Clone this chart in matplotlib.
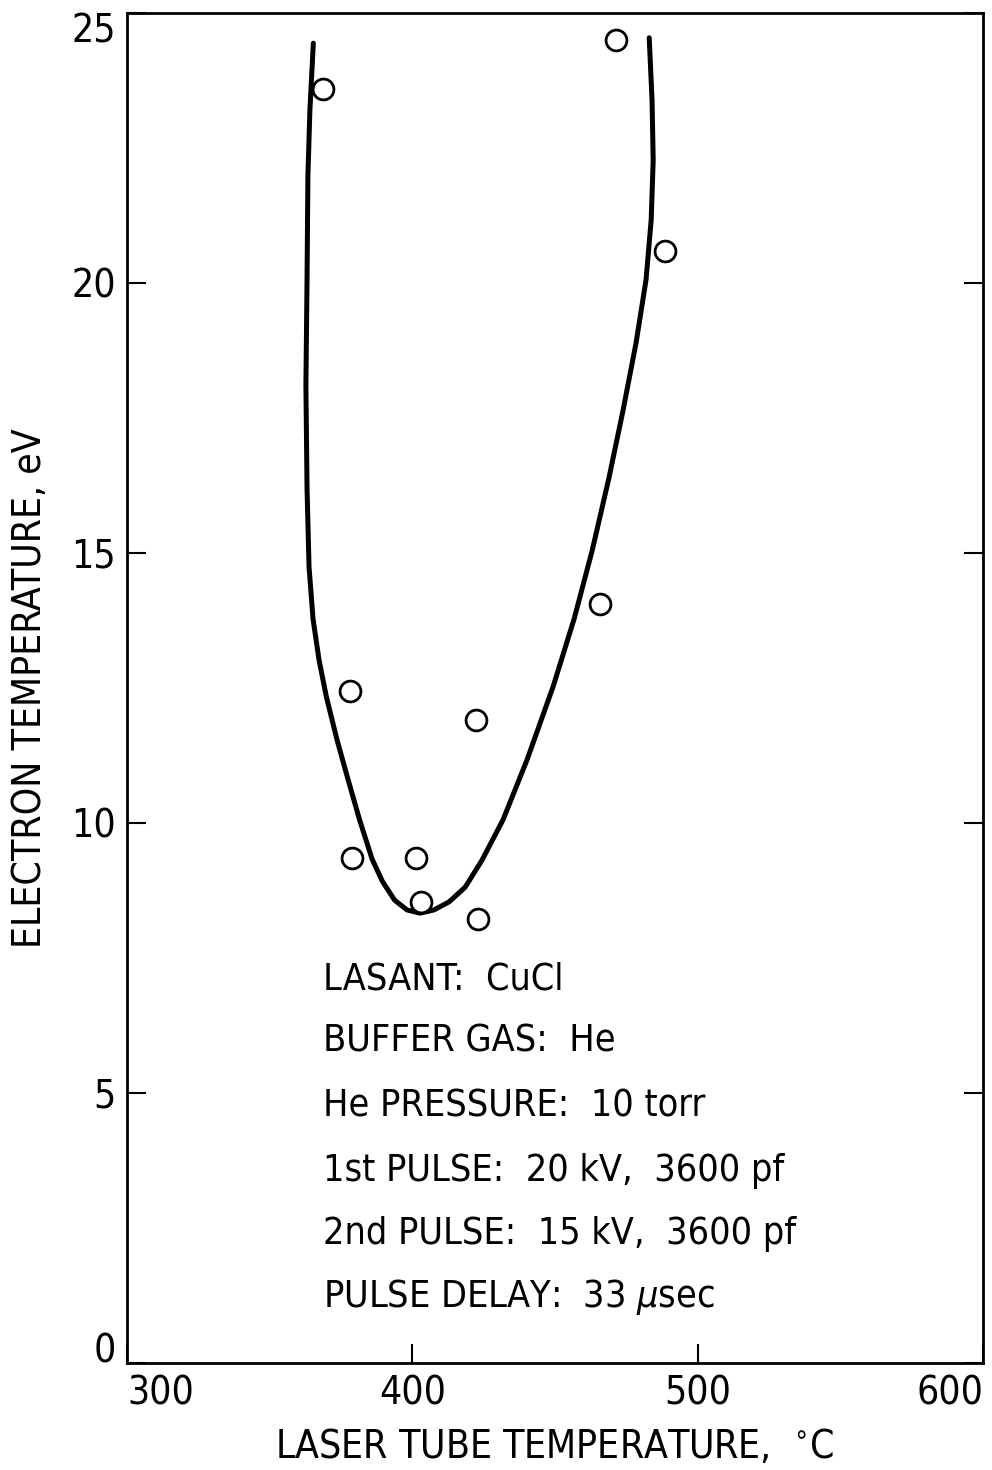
import matplotlib
matplotlib.use("Agg")
import matplotlib.pyplot as plt

# measured points (open circles)
tube_temp = [368.8, 471.4, 488.6, 465.8, 378.0, 422.2, 378.7, 401.2, 402.9, 422.9]
electron_temp = [23.6, 24.5, 20.6, 14.06, 12.45, 11.9, 9.35, 9.35, 8.53, 8.22]

# hand drawn curve (left top -> bottom -> right top)
curve_x = [365.3, 364.1, 363.4, 363.1, 362.7, 363.1, 363.8, 365.2, 367.3, 369.9,
           373.6, 377.5, 381.5, 385.9, 389.5, 393.8, 398.1, 402.7, 407.6, 412.9,
           418.5, 424.4, 431.8, 440.2, 449.3, 456.7, 463.0, 468.9, 473.8, 478.4,
           481.9, 483.7, 484.4, 484.0, 483.0]
curve_y = [24.44, 23.20, 21.98, 20.06, 18.11, 16.19, 14.74, 13.78, 13.02, 12.33,
           11.54, 10.80, 10.06, 9.33, 8.92, 8.57, 8.39, 8.33, 8.39, 8.54,
           8.81, 9.31, 10.06, 11.17, 12.52, 13.78, 15.04, 16.39, 17.63, 18.89,
           20.06, 21.17, 22.28, 23.39, 24.54]

xticks = [300, 400, 500, 600]
yticks = [0, 5, 10, 15, 20, 25]

notes = ["LASANT:  CuCl",
         "BUFFER GAS:  He",
         "He PRESSURE:  10 torr",
         "1st PULSE:  20 kV,  3600 pf",
         "2nd PULSE:  15 kV,  3600 pf",
         "PULSE DELAY:  33 $\\mu$sec"]
note_y = [6.91, 5.76, 4.57, 3.37, 2.20, 1.04]

plt.rcParams['font.family'] = ['DejaVu Sans']
plt.rcParams['font.stretch'] = 'condensed'
plt.rcParams['mathtext.fontset'] = 'dejavusans'

fig = plt.figure(figsize=(9.92, 14.7), dpi=100)
ax = fig.add_axes([0.128, 0.0728, 0.863, 0.9184])

ax.plot(curve_x, curve_y, color='black', lw=3.6, solid_capstyle='round',
        solid_joinstyle='round')
ax.plot(tube_temp, electron_temp, 'o', ms=15, mfc='white', mec='black', mew=2.0)

ax.set_xlim(300, 600)
ax.set_ylim(0, 25)
ax.set_xticks(xticks)
ax.set_yticks(yticks)
ax.set_xticklabels([str(t) for t in xticks], fontsize=28)
ax.set_yticklabels([str(t) for t in yticks], fontsize=28)
ax.tick_params(axis='both', direction='in', length=14, width=1.5,
               left=True, right=True, top=False, bottom=True)
ax.tick_params(axis='x', pad=8)
ax.tick_params(axis='y', pad=8)
for s in ax.spines.values():
    s.set_linewidth(2)

# corner labels pushed inside like the original
xl = ax.get_xticklabels()
xl[0].set_ha('left')
xl[-1].set_ha('right')
yl = ax.get_yticklabels()
yl[0].set_va('baseline')
yl[-1].set_va('top')

ax.set_xlabel("LASER TUBE TEMPERATURE,  $^{\\circ}$C", fontsize=28, labelpad=11)
ax.set_ylabel("ELECTRON TEMPERATURE, eV", fontsize=28, labelpad=16)

for txt, yy in zip(notes, note_y):
    ax.text(368.8, yy, txt, fontsize=27, va='baseline', ha='left')

fig.savefig("out.png", dpi=100)
